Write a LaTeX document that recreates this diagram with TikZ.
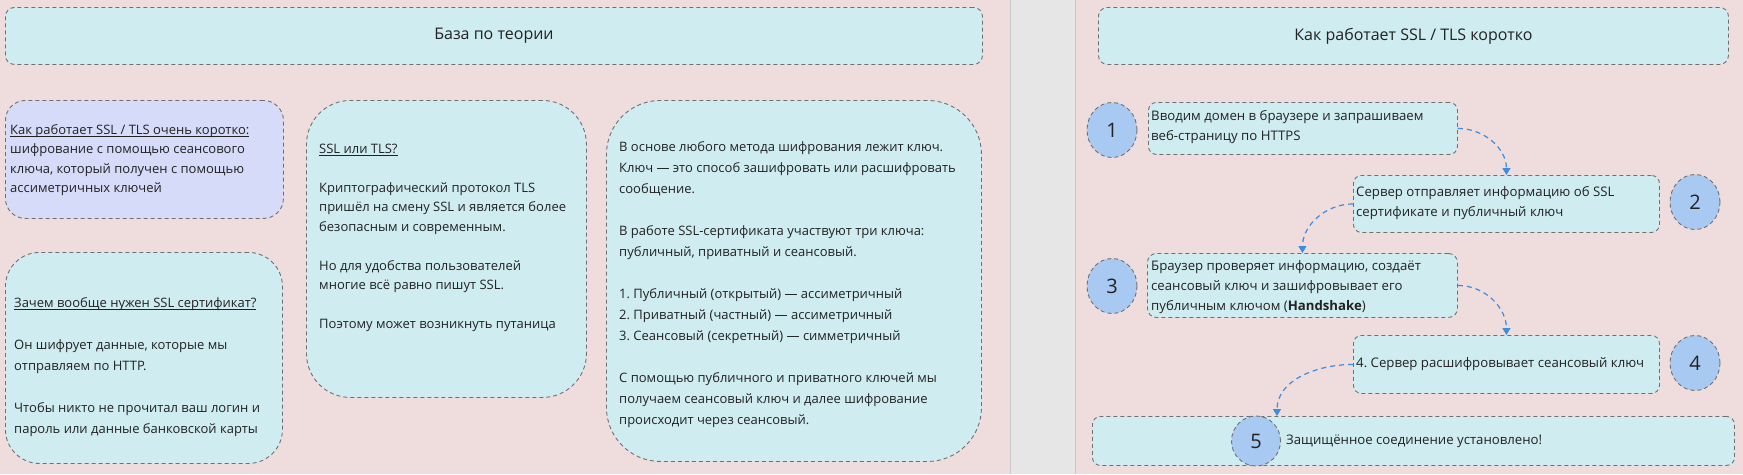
\documentclass[tikz,border=0pt]{standalone}
\usepackage{fontspec}
\setmainfont{Open Sans}
\usetikzlibrary{shapes.geometric,arrows.meta,calc}
\definecolor{bgpink}{HTML}{EFDCDC}
\definecolor{cyanbox}{HTML}{CFECF0}
\definecolor{lavbox}{HTML}{D5DBF9}
\definecolor{circblue}{HTML}{A8CAF2}
\definecolor{bordergray}{HTML}{707070}
\definecolor{arrblue}{HTML}{3C8CE1}
\definecolor{stripgray}{HTML}{E6E6E6}
\definecolor{stripline}{HTML}{C8C8C8}
\definecolor{textcol}{HTML}{222222}
\newcommand\hdul[1]{\setbox0=\hbox{#1}\rlap{\rule[-2.5pt]{\wd0}{0.7pt}}\box0}
\frenchspacing
\begin{document}
\begin{tikzpicture}[x=1pt,y=-1pt,
  box/.style={rectangle, draw=bordergray, dash pattern=on 4pt off 3pt, line width=0.9pt, fill=cyanbox, inner sep=0pt, anchor=north west},
  numc/.style={ellipse, draw=bordergray, dash pattern=on 4pt off 3pt, line width=0.9pt, fill=circblue, minimum width=50pt, minimum height=55pt, inner sep=0pt, text=textcol, font=\fontsize{20}{24}\selectfont},
  arr/.style={draw=arrblue, dash pattern=on 5pt off 4pt, line width=1.2pt, -{Triangle[length=7pt,width=8pt]}},
  lt/.style={align=left, anchor=west, inner sep=0pt, text=textcol, font=\fontsize{13}{19.5}\selectfont},
  ltw/.style={lt, font=\fontsize{13}{21}\selectfont},
  rt/.style={align=left, anchor=west, inner sep=0pt, text=textcol, font=\fontsize{13.2}{20}\selectfont},
  ttl/.style={text=textcol, font=\fontsize{16}{20}\selectfont}
]
\useasboundingbox (0,0) rectangle (1743,474);
\fill[bgpink] (0,0) rectangle (1743,474);
\fill[stripgray] (1010,0) rectangle (1075,474);
\draw[stripline, line width=1pt] (1010,0) -- (1010,474) (1075,0) -- (1075,474);

% left panel
\node[box, minimum width=977pt, minimum height=57pt, rounded corners=9pt] (t1) at (5,7) {};
\node[ttl] (t1l) at (t1.center) {База по теории};

\node[box, fill=lavbox, minimum width=278pt, minimum height=118pt, rounded corners=20pt] (ba) at (5,100) {};
\node[lt] (bat) at (10,160) {\hdul{Как работает SSL / TLS очень коротко:}\\
шифрование с помощью сеансового\\
ключа, который получен с помощью\\
ассиметричных ключей};

\node[box, minimum width=277pt, minimum height=211pt, rounded corners=34pt] (bb) at (5,252) {};
\node[ltw] (bbt) at (14,367) {\hdul{Зачем вообще нужен SSL сертификат?}\\[\baselineskip]
Он шифрует данные, которые мы\\
отправляем по HTTP.\\[\baselineskip]
Чтобы никто не прочитал ваш логин и\\
пароль или данные банковской карты};

\node[box, minimum width=280pt, minimum height=297pt, rounded corners=44pt] (bc) at (306,100) {};
\node[lt] (bct) at (319,238) {\hdul{SSL или TLS?}\\[\baselineskip]
Криптографический протокол TLS\\
пришёл на смену SSL и является более\\
безопасным и современным.\\[\baselineskip]
Но для удобства пользователей\\
многие всё равно пишут SSL.\\[\baselineskip]
Поэтому может возникнуть путаница};

\node[box, minimum width=375pt, minimum height=361pt, rounded corners=54pt] (bd) at (606,100) {};
\node[ltw] (bdt) at (619,285) {В основе любого метода шифрования лежит ключ.\\
Ключ — это способ зашифровать или расшифровать\\
сообщение.\\[\baselineskip]
В работе SSL-сертификата участвуют три ключа:\\
публичный, приватный и сеансовый.\\[\baselineskip]
1. Публичный (открытый) — ассиметричный\\
2. Приватный (частный) — ассиметричный\\
3. Сеансовый (секретный) — симметричный\\[\baselineskip]
С помощью публичного и приватного ключей мы\\
получаем сеансовый ключ и далее шифрование\\
происходит через сеансовый.};

% right panel
\node[box, minimum width=630pt, minimum height=57pt, rounded corners=9pt] (t2) at (1098,7) {};
\node[ttl] (t2l) at (t2.center) {Как работает SSL / TLS коротко};

\node[box, minimum width=309pt, minimum height=52pt, rounded corners=8pt] (s1) at (1148,102) {};
\node[rt] (s1t) at (1151,127) {Вводим домен в браузере и запрашиваем\\веб-страницу по HTTPS};

\node[box, minimum width=306pt, minimum height=57pt, rounded corners=8pt] (s2) at (1353,175) {};
\node[rt] (s2t) at (1356,203) {Сервер отправляет информацию об SSL\\сертификате и публичный ключ};

\node[box, minimum width=310pt, minimum height=64pt, rounded corners=9pt] (s3) at (1147,253) {};
\node[rt] (s3t) at (1151,287) {Браузер проверяет информацию, создаёт\\сеансовый ключ и зашифровывает его\\публичным ключом (\textbf{Handshake})};

\node[box, minimum width=306pt, minimum height=58pt, rounded corners=8pt] (s4) at (1353,335) {};
\node[rt] (s4t) at (1356,364) {4. Сервер расшифровывает сеансовый ключ};

\node[box, minimum width=642pt, minimum height=49pt, rounded corners=8pt] (s5) at (1092,416) {};
\node[rt] (s5t) at (1286,441) {Защищённое соединение установлено!};

\node[numc] (c1) at (1112,130) {1};
\node[numc] (c2) at (1695,202) {2};
\node[numc] (c3) at (1112,286) {3};
\node[numc] (c4) at (1695,363) {4};
\node[numc, minimum width=49pt, minimum height=50pt] (c5) at (1256,441) {5};

\draw[arr] (s1.east) to[out=0,in=90] (s2.north);
\draw[arr] (s2.west) to[out=180,in=90] (s3.north);
\draw[arr] (s3.east) to[out=0,in=90] (s4.north);
\draw[arr] (s4.west) to[out=180,in=90] ($(s5.north west)+(185,0)$);
\end{tikzpicture}
\end{document}
